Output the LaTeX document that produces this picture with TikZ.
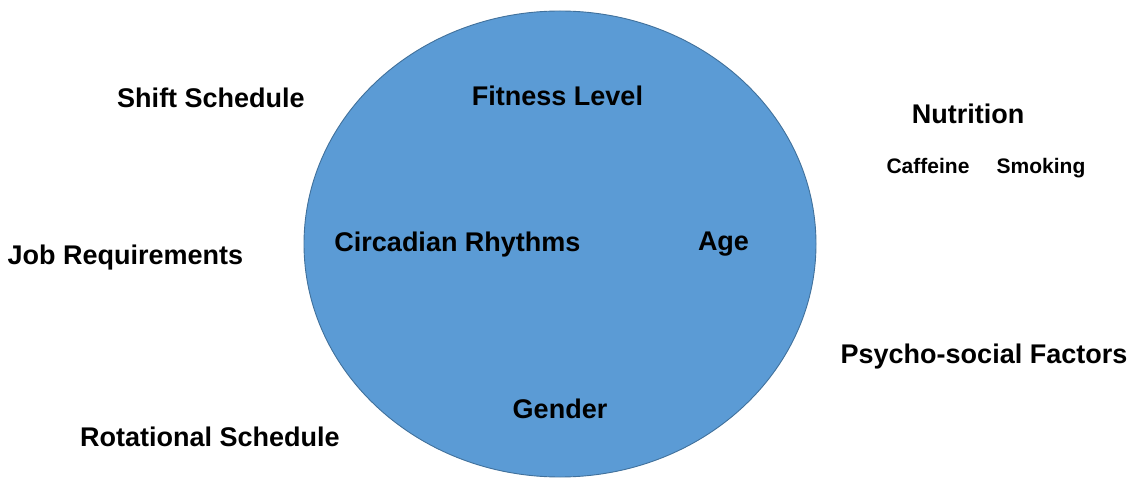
\documentclass[tikz,border=0pt]{standalone}
\usepackage{fontspec}
\setmainfont{Liberation Sans}
\begin{document}
\begin{tikzpicture}[x=1pt,y=-1pt,
  lbl/.style={font=\fontsize{27}{30}\selectfont\bfseries, anchor=base, inner sep=0pt},
  small/.style={font=\fontsize{21}{24}\selectfont\bfseries, anchor=base, inner sep=0pt}]
\useasboundingbox (0,0) rectangle (1130,478);
\definecolor{blobfill}{HTML}{5B9BD5}
\definecolor{blobline}{HTML}{41719C}
\draw[fill=blobfill, draw=blobline, line width=0.9pt] (560,244) ellipse [x radius=256, y radius=233];
\node[lbl] (shift) at (211,108) {Shift Schedule};
\node[lbl] (fit) at (557.5,106) {Fitness Level};
\node[lbl] (nut) at (968,124) {Nutrition};
\node[small] (caf) at (928,174) {Caffeine};
\node[small] (smo) at (1041,174) {Smoking};
\node[lbl] (job) at (125.5,265) {Job Requirements};
\node[lbl] (circ) at (457.5,252) {Circadian Rhythms};
\node[lbl] (age) at (723.5,251) {Age};
\node[lbl] (psy) at (984,363) {Psycho-social Factors};
\node[lbl] (gen) at (560,418) {Gender};
\node[lbl] (rot) at (210,446) {Rotational Schedule};
\end{tikzpicture}
\end{document}
